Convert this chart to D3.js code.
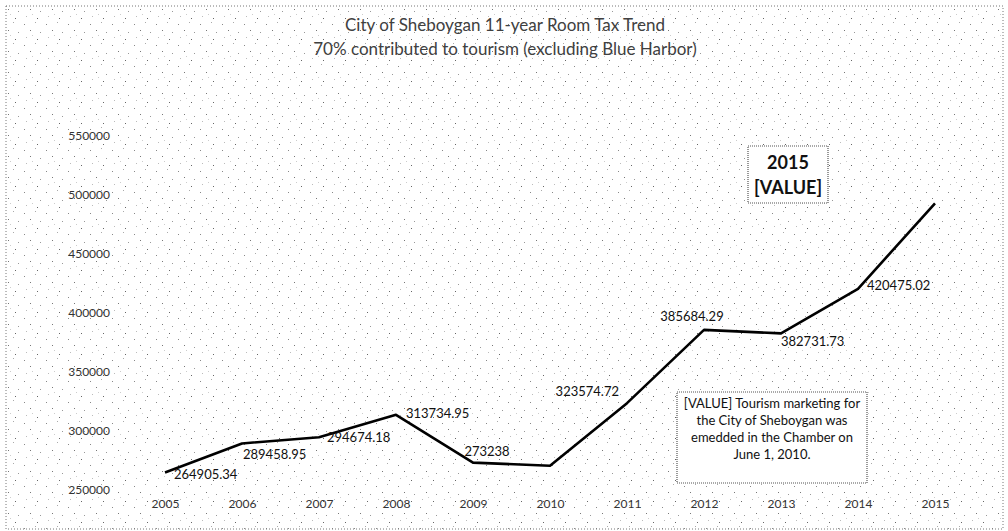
<!DOCTYPE html>
<html>
<head>
<meta charset="utf-8">
<script src="https://cdn.jsdelivr.net/npm/d3@7"></script>
<style>
  html, body { margin: 0; padding: 0; background: #fff; }
  svg { display: block; }
  text { font-family: Lato, "Open Sans", sans-serif; }
</style>
</head>
<body>
<svg id="chart" width="1008" height="531"></svg>
<script>
// Room tax collected per year (USD)
const years = [2005, 2006, 2007, 2008, 2009, 2010, 2011, 2012, 2013, 2014, 2015];
const roomTax = [264905.34, 289458.95, 294674.18, 313734.95, 273238, 270500,
                 323574.72, 385684.29, 382731.73, 420475.02, 493000];
// Printed value labels (null = no label on that point)
const valueLabels = ["264905.34", "289458.95", "294674.18", "313734.95", "273238", null,
                     "323574.72", "385684.29", "382731.73", "420475.02", null];
const yTicks = [250000, 300000, 350000, 400000, 450000, 500000, 550000];
const titleLines = ["City of Sheboygan 11-year Room Tax Trend",
                    "70% contributed to tourism (excluding Blue Harbor)"];
const noteLines = ["[VALUE] Tourism marketing for", "the City of Sheboygan was",
                   "emedded in the Chamber on", "June 1, 2010."];
const calloutLines = ["2015", "[VALUE]"];

// Label placement relative to each point: [anchor, dx, dy]
const labelPlace = [
  ["start", 9, 3], ["start", 1, 12], ["start", 8, 1], ["start", 10, 0],
  ["middle", 14, -10], null, ["end", -8, -10], ["middle", -12, -12],
  ["start", 0, 9], ["start", 9, -2], null
];

const svg = d3.select("#chart");
const W = 1008, H = 531;

// Sparse dotted fill for the chart area
const defs = svg.append("defs");
const pat = defs.append("pattern")
  .attr("id", "dots").attr("patternUnits", "userSpaceOnUse")
  .attr("width", 22).attr("height", 21);
const dotSpots = [[2, 3, "#888"], [13, 1, "#aaa"], [8, 9, "#777"], [18, 11, "#999"],
                  [4, 16, "#bbb"], [15, 18, "#666"], [10, 14, "#ccc"]];
dotSpots.forEach(([dx, dy, c]) => {
  pat.append("rect").attr("x", dx).attr("y", dy).attr("width", 1).attr("height", 1).attr("fill", c);
});

svg.append("rect").attr("width", W).attr("height", H).attr("fill", "#fff");
svg.append("rect").attr("x", 6).attr("y", 6).attr("width", 997).attr("height", 523)
  .attr("fill", "url(#dots)")
  .attr("stroke", "#777").attr("stroke-width", 1).attr("stroke-dasharray", "1,2");

const x = d3.scaleLinear().domain([2005, 2015]).range([165, 935]);
const y = d3.scaleLinear().domain([250000, 550000]).range([490, 136]);

// Title
svg.append("g").selectAll("text").data(titleLines).join("text")
  .attr("x", 505).attr("y", (d, i) => 27 + i * 24)
  .attr("text-anchor", "middle").attr("dominant-baseline", "middle")
  .attr("font-size", 17).attr("fill", "#404040")
  .text(d => d);

// Y axis (labels only)
const yAxis = d3.axisLeft(y).tickValues(yTicks).tickSize(0).tickPadding(0)
  .tickFormat(d3.format("d"));
const gy = svg.append("g").attr("transform", "translate(110,0)").call(yAxis);
gy.select(".domain").remove();
gy.selectAll("text").attr("font-size", 12).attr("fill", "#333")
  .attr("font-family", "Lato, sans-serif");

// X axis (labels only)
const xAxis = d3.axisBottom(x).tickValues(years).tickSize(0).tickPadding(0)
  .tickFormat(d3.format("d"));
const gx = svg.append("g").attr("transform", "translate(0,499)").call(xAxis);
gx.select(".domain").remove();
gx.selectAll("text").attr("font-size", 12).attr("fill", "#333")
  .attr("font-family", "Lato, sans-serif");

// Trend line
const pts = years.map((yr, i) => ({ yr, v: roomTax[i], label: valueLabels[i], place: labelPlace[i] }));
svg.append("path").datum(pts)
  .attr("fill", "none").attr("stroke", "#000").attr("stroke-width", 2.6)
  .attr("stroke-linejoin", "round")
  .attr("d", d3.line().x(d => x(d.yr)).y(d => y(d.v)));

// Value labels
svg.append("g").selectAll("text").data(pts.filter(d => d.label)).join("text")
  .attr("x", d => x(d.yr) + d.place[1])
  .attr("y", d => y(d.v) + d.place[2])
  .attr("text-anchor", d => d.place[0])
  .attr("dominant-baseline", "middle")
  .attr("font-size", 13).attr("fill", "#111")
  .text(d => d.label);

// 2015 callout
const call = svg.append("g");
call.append("rect").attr("x", 748).attr("y", 146).attr("width", 80).attr("height", 57)
  .attr("fill", "#fff").attr("stroke", "#555").attr("stroke-width", 1.2)
  .attr("stroke-dasharray", "1,1");
call.selectAll("text").data(calloutLines).join("text")
  .attr("x", 788).attr("y", (d, i) => 164 + i * 25)
  .attr("text-anchor", "middle").attr("dominant-baseline", "middle")
  .attr("font-size", 18).attr("font-weight", "bold").attr("fill", "#111")
  .text(d => d);

// Note box
const note = svg.append("g");
note.append("rect").attr("x", 677).attr("y", 392).attr("width", 190).attr("height", 91)
  .attr("fill", "#fff").attr("stroke", "#555").attr("stroke-width", 1.2)
  .attr("stroke-dasharray", "1,1");
note.selectAll("text").data(noteLines).join("text")
  .attr("x", 772).attr("y", (d, i) => 405 + i * 17)
  .attr("text-anchor", "middle").attr("dominant-baseline", "middle")
  .attr("font-size", 13).attr("fill", "#111")
  .text(d => d);
</script>
</body>
</html>
